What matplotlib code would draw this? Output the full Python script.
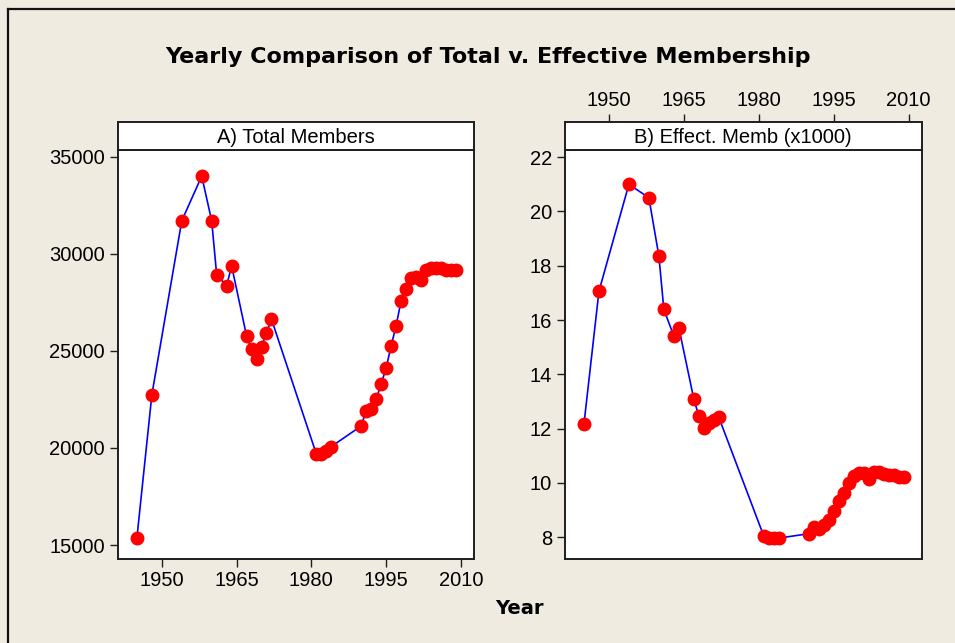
import matplotlib.pyplot as plt
from matplotlib.lines import Line2D

# values
years = [1945, 1948, 1954, 1958, 1960, 1961, 1963, 1964, 1967, 1968,
         1969, 1970, 1971, 1972, 1981, 1982, 1983, 1984, 1990, 1991,
         1992, 1993, 1994, 1995, 1996, 1997, 1998, 1999, 2000, 2001,
         2002, 2003, 2004, 2005, 2006, 2007, 2008, 2009]
total_members = [15380, 22750, 31700, 34000, 31700, 28930, 28350, 29380, 25770, 25090,
                 24570, 25220, 25940, 26630, 19690, 19690, 19860, 20070, 21130, 21920,
                 21990, 22510, 23280, 24120, 25240, 26290, 27560, 28180, 28730, 28830,
                 28660, 29180, 29260, 29270, 29260, 29180, 29150, 29150]
effective_memb = [12.17, 17.06, 21.0, 20.5, 18.36, 16.39, 15.41, 15.72, 13.09, 12.47,
                  12.04, 12.2, 12.32, 12.42, 8.05, 7.99, 7.97, 7.97, 8.13, 8.39,
                  8.30, 8.46, 8.64, 8.95, 9.32, 9.62, 9.99, 10.24, 10.36, 10.36,
                  10.14, 10.42, 10.42, 10.33, 10.30, 10.28, 10.23, 10.23]

year_ticks = [1950, 1965, 1980, 1995, 2010]
total_ticks = [15000, 20000, 25000, 30000, 35000]
eff_ticks = [8, 10, 12, 14, 16, 18, 20, 22]
panel_titles = ['A) Total Members', 'B) Effect. Memb (x1000)']

BG = '#efebe1'
FRAME = '#1e1e1e'
tick_font = 'Liberation Sans'

fig = plt.figure(figsize=(9.55, 6.43), dpi=100, facecolor=BG)

W, H = 955, 643
def box(x0, y0, x1, y1):
    # pixel box (top-left origin) -> figure fraction rect
    return [x0 / W, 1 - y1 / H, (x1 - x0) / W, (y1 - y0) / H]

xlim = (1941.1, 2012.7)

ax1 = fig.add_axes(box(117.5, 150.3, 474.3, 559))
ax2 = fig.add_axes(box(564.5, 150.3, 922, 559))
st1 = fig.add_axes(box(117.5, 122.3, 474.3, 150.3))
st2 = fig.add_axes(box(564.5, 122.3, 922, 150.3))

for ax, vals in [(ax1, total_members), (ax2, effective_memb)]:
    ax.plot(years, vals, color='blue', lw=1.2, zorder=2)
    ax.plot(years, vals, 'o', color='red', mec='red', ms=9, zorder=3)
    ax.set_xlim(*xlim)

ax1.set_ylim(14280, 35330)
ax1.set_yticks(total_ticks)
ax2.set_ylim(7.2, 22.25)
ax2.set_yticks(eff_ticks)

ax1.set_xticks(year_ticks)
ax2.set_xticks([])

for ax in [ax1, ax2, st1, st2]:
    ax.set_facecolor('white')
    for s in ax.spines.values():
        s.set_linewidth(1.4)
        s.set_color(FRAME)
    ax.tick_params(direction='out', length=6, width=1, color=FRAME,
                   labelsize=14.5, pad=3)
    for lab in ax.get_xticklabels() + ax.get_yticklabels():
        lab.set_fontfamily(tick_font)

for st, t in zip([st1, st2], panel_titles):
    st.set_xlim(*xlim)
    st.set_yticks([])
    st.set_xticks([])
    st.text(0.5, 0.45, t, transform=st.transAxes, ha='center', va='center',
            fontsize=14.5, family=tick_font)

# top year axis of panel B sits on its strip
st2.xaxis.tick_top()
st2.set_xticks(year_ticks)
st2.tick_params(axis='x', direction='out', length=6, width=1, color=FRAME,
                labelsize=14.5, pad=3)
for lab in st2.get_xticklabels():
    lab.set_fontfamily(tick_font)

fig.text(0.5105, 1 - 57 / H, 'Yearly Comparison of Total v. Effective Membership',
         ha='center', va='center', fontsize=16, fontweight='bold', family='DejaVu Sans')
fig.text(519 / W, 1 - 609 / H, 'Year', ha='center', va='center',
         fontsize=14, fontweight='bold', family='DejaVu Sans')

# outer border, top and left only
fig.add_artist(Line2D([7.5 / W, 7.5 / W], [0, 1 - 9 / H], transform=fig.transFigure,
                      color='#111111', lw=1.6))
fig.add_artist(Line2D([7.5 / W, 1], [1 - 9 / H, 1 - 9 / H], transform=fig.transFigure,
                      color='#111111', lw=1.6))

fig.savefig('out.png', dpi=100, facecolor=BG)
